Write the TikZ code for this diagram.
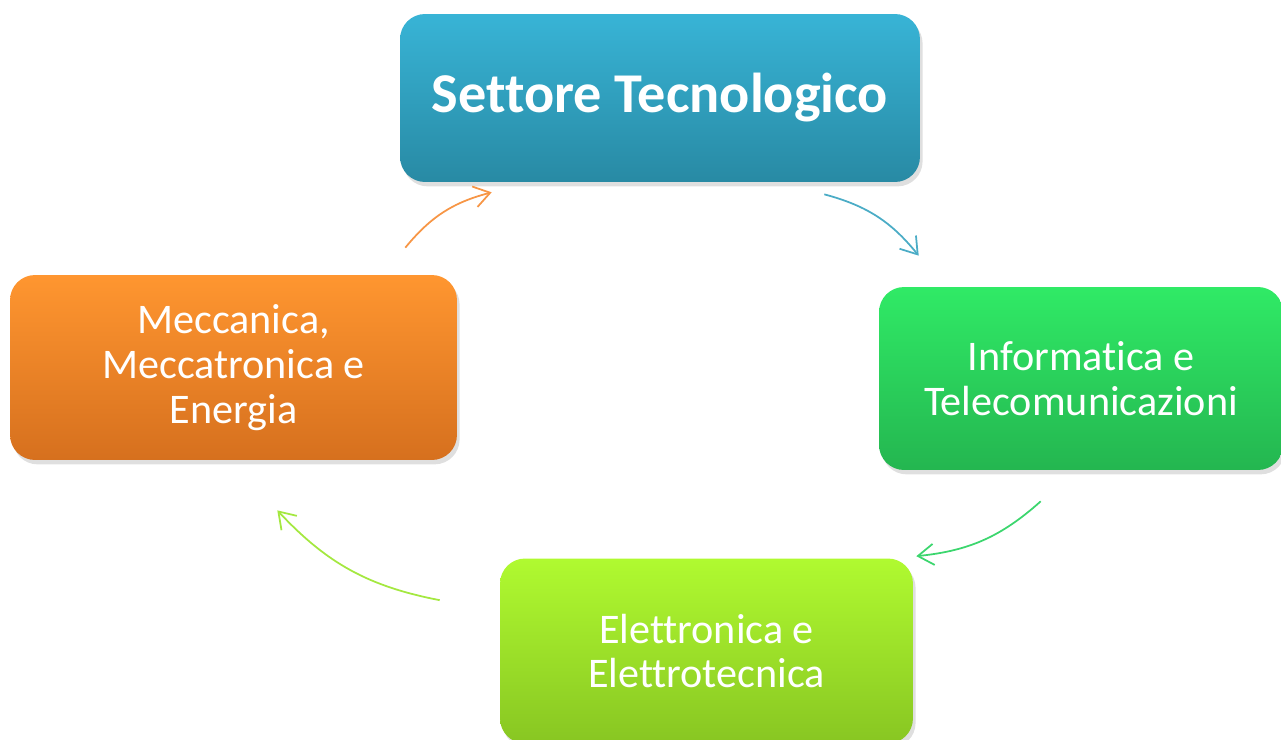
\documentclass[tikz,border=0pt]{standalone}
\usepackage{fontspec}
\setmainfont{Carlito}[Ligatures=NoCommon]
\usetikzlibrary{arrows.meta,shadows}
\definecolor{blueTop}{RGB}{56,180,214}
\definecolor{blueBot}{RGB}{40,138,164}
\definecolor{greenTop}{RGB}{48,234,102}
\definecolor{greenBot}{RGB}{36,182,80}
\definecolor{limeTop}{RGB}{176,250,48}
\definecolor{limeBot}{RGB}{136,198,34}
\definecolor{orangeTop}{RGB}{255,150,48}
\definecolor{orangeBot}{RGB}{214,112,30}
\tikzset{
	x=0.02cm, y=-0.02cm, % one unit is one pixel of the slide
	box/.style={rounded corners=0.5cm, inner sep=0pt, align=center, text=white,
		font=\fontsize{24}{25.5}\selectfont,
		drop shadow={shadow xshift=1.5pt, shadow yshift=-2.5pt, opacity=0.25}},
	arc/.style={line width=1pt, -{Straight Barb[length=9pt,width=12pt]}, bend left=18},
}

\begin{document}
\begin{tikzpicture}
	\useasboundingbox (0,0) rectangle (1281,740);
	\node[box, top color=blueTop, bottom color=blueBot, minimum width=10.4cm, minimum height=3.36cm,
		font=\fontsize{32}{36}\selectfont\bfseries] (tec) at (660,98) {Settore Tecnologico};
	\node[box, top color=greenTop, bottom color=greenBot, minimum width=8.08cm, minimum height=3.66cm] (inf) at (1081,378.5) {Informatica e\\Telecomunicazioni};
	\node[box, top color=limeTop, bottom color=limeBot, minimum width=8.26cm, minimum height=3.7cm] (ele) at (706.5,651) {Elettronica e\\Elettrotecnica};
	\node[box, top color=orangeTop, bottom color=orangeBot, minimum width=8.94cm, minimum height=3.7cm] (mec) at (233.5,367.5) {Meccanica,\\Meccatronica e\\Energia};

	\draw[arc, color={rgb,255:red,75;green,172;blue,198}] ([shift={(-96,12)}]tec.south east) to ([shift={(40,-31)}]inf.north west);
	\draw[arc, color={rgb,255:red,60;green,214;blue,110}] ([shift={(162,31)}]inf.south west) to ([shift={(3,-2)}]ele.north east);
	\draw[arc, color={rgb,255:red,164;green,232;blue,64}] ([shift={(-60,42)}]ele.north west) to ([shift={(-180,50)}]mec.south east);
	\draw[arc, color={rgb,255:red,247;green,150;blue,70}] ([shift={(-52,-27)}]mec.north east) to ([shift={(92,10)}]tec.south west);
\end{tikzpicture}
\end{document}
